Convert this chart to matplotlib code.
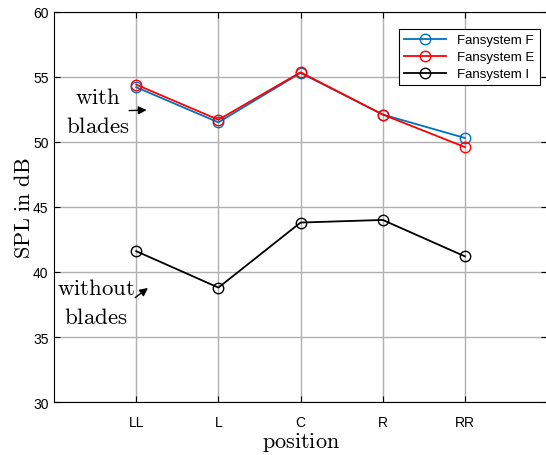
import matplotlib.pyplot as plt

plt.rcParams['mathtext.fontset'] = 'cm'

positions = ['LL', 'L', 'C', 'R', 'RR']
fan_f = [54.2, 51.5, 55.3, 52.1, 50.3]
fan_e = [54.4, 51.7, 55.35, 52.1, 49.6]
fan_i = [41.6, 38.8, 43.8, 44.0, 41.2]

x = list(range(1, len(positions) + 1))

fig = plt.figure(figsize=(5.46, 4.56), dpi=100)
ax = fig.add_axes([0.099, 0.116, 0.903, 0.856])

ax.plot(x, fan_f, '-o', color='#0072BD', mfc='none', ms=7.5, lw=1.3, label='Fansystem F')
ax.plot(x, fan_e, '-o', color='#FF0000', mfc='none', ms=7.5, lw=1.3, label='Fansystem E')
ax.plot(x, fan_i, '-o', color='black', mfc='none', ms=7.5, lw=1.3, label='Fansystem I')

ax.set_xlim(0, 6)
ax.set_ylim(30, 60)
ax.set_xticks(x)
ax.set_xticklabels(positions)
ax.set_yticks(range(30, 61, 5))
ax.grid(True, color='#b0b0b0', lw=1)
ax.set_axisbelow(True)
ax.tick_params(direction='in', top=True, right=True, labelsize=10,
               length=4, labelfontfamily='Liberation Sans')
ax.tick_params(axis='y', pad=4)
ax.tick_params(axis='x', pad=9)

ax.set_xlabel(r'$\mathrm{position}$', fontsize=16, labelpad=1)
ax.set_ylabel(r'$\mathrm{SPL\ in\ dB}$', fontsize=16, labelpad=-1)

ax.annotate('', xy=(1.16, 52.45), xytext=(0.88, 52.4),
            arrowprops=dict(arrowstyle='-|>', color='black', lw=1, mutation_scale=12))
ax.text(0.53, 52.4, r'$\mathrm{with}$' + '\n' + r'$\mathrm{blades}$', fontsize=16.5,
        ha='center', va='center', linespacing=1.35)
ax.annotate('', xy=(1.17, 38.9), xytext=(0.96, 37.9),
            arrowprops=dict(arrowstyle='-|>', color='black', lw=1, mutation_scale=12))
ax.text(0.51, 37.7, r'$\mathrm{without}$' + '\n' + r'$\mathrm{blades}$', fontsize=16.5,
        ha='center', va='center', linespacing=1.35)

leg = ax.legend(loc='upper right', bbox_to_anchor=(0.998, 0.973), fancybox=False,
                edgecolor='black', framealpha=1, prop={'family': 'Liberation Sans', 'size': 9.5},
                handlelength=3.2, borderpad=0.4, labelspacing=0.35)
leg.get_frame().set_linewidth(0.8)

fig.savefig('out.png', dpi=100)
